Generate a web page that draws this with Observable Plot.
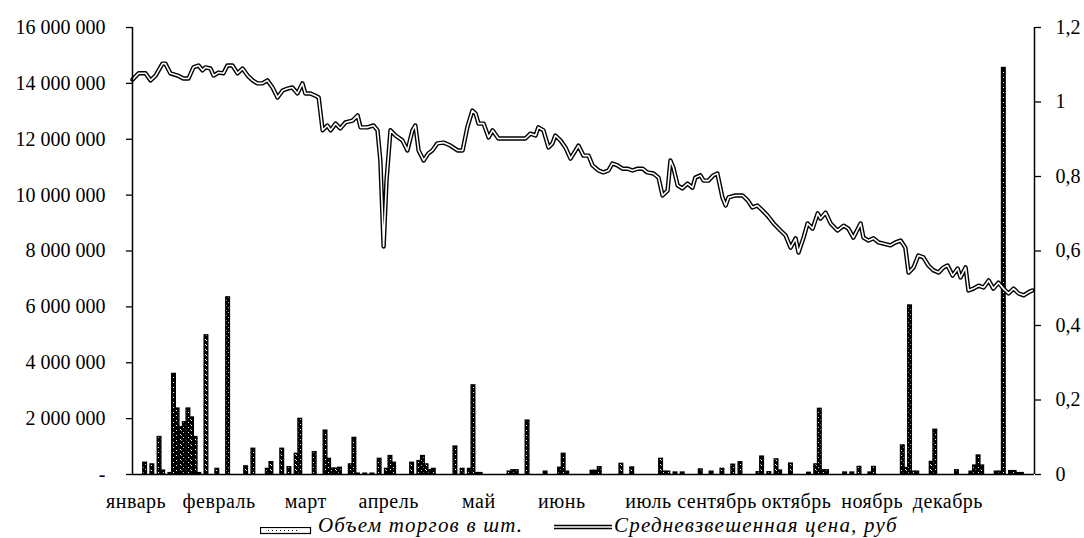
<!DOCTYPE html>
<html>
<head>
<meta charset="utf-8">
<script src="https://cdn.jsdelivr.net/npm/d3@7"></script>
<script src="https://cdn.jsdelivr.net/npm/@observablehq/plot@0.6"></script>
<style>
  body { margin: 0; background: #fff; }
  #wrap { position: relative; width: 1084px; height: 538px; font-family: "Liberation Serif", serif; color: #000; overflow: hidden; }
  #legend { position: relative; height: 24px; width: 1084px; }
  #legend .lt { position: absolute; top: 1px; font-style: italic; font-size: 21px; line-height: 21px; letter-spacing: 1.2px; white-space: nowrap; }
  #legend svg { position: absolute; }
  #chart svg [aria-label="x-axis tick label"] { letter-spacing: 0.5px; }
</style>
</head>
<body>
<div id="wrap">
  <div id="chart"></div>
  <div id="legend">
    <svg id="ic1" style="left:260px; top:13px" width="52" height="10"></svg>
    <span class="lt" style="left:318px">Объем торгов в шт.</span>
    <svg id="ic2" style="left:552px; top:8px" width="62" height="10"></svg>
    <span class="lt" style="left:614px">Средневзвешенная цена, руб</span>
  </div>
</div>
<script>
// ---- data ----
const monthTickDay = [1, 24, 48, 71, 96, 119, 143, 162, 184, 205, 226];
const monthLabels = ["январь", "февраль", "март", "апрель", "май", "июнь", "июль", "сентябрь", "октябрь", "ноябрь", "декабрь"];

const volumeTicks = [0, 2000000, 4000000, 6000000, 8000000, 10000000, 12000000, 14000000, 16000000];
const priceTicks = [0, 0.2, 0.4, 0.6, 0.8, 1, 1.2];

const barDay = [3,5,7,8,10,11,12,13,14,15,16,17,18,20,23,26,31,33,37,38,41,43,45,46,50,53,54,55,56,57,60,61,62,64,66,68,70,71,72,77,79,80,81,82,83,89,91,93,94,95,96,104,105,106,109,114,118,119,120,127,128,129,135,138,146,147,148,150,152,157,160,163,166,168,173,174,176,178,179,182,187,189,190,191,192,197,199,201,204,205,213,214,215,216,217,221,222,228,232,233,234,235,239,240,241,243,244,245,246];
const barVolume = [420000,360000,1340000,140000,50000,3600000,2360000,1690000,1870000,2360000,2040000,1340000,50000,4980000,200000,6340000,290000,920000,200000,440000,920000,260000,740000,1990000,800000,1570000,560000,210000,210000,240000,360000,1310000,30000,30000,30000,560000,200000,660000,420000,420000,480000,660000,360000,150000,200000,1000000,200000,200000,3190000,50000,50000,100000,150000,150000,1930000,100000,240000,740000,100000,130000,130000,260000,380000,250000,560000,100000,100000,70000,70000,180000,100000,200000,350000,440000,80000,640000,80000,540000,140000,390000,60000,360000,2350000,150000,150000,70000,70000,270000,70000,270000,1040000,230000,6050000,100000,100000,450000,1600000,150000,100000,320000,680000,320000,100000,100000,14550000,120000,120000,50000,50000];

const priceDay = [0,1.7,3.6,5.0,6.4,8.3,9.1,10.5,12.5,14.1,15.5,16.9,18.3,19.4,20.2,21.6,22.5,23.8,25.2,26.3,27.7,29.1,30.5,31.9,33.3,34.6,36.0,37.4,38.8,40.2,41.6,43.0,44.3,45.7,47.1,47.9,49.3,50.7,51.6,52.7,54.0,54.9,56.3,57.6,59.0,61.0,62.4,63.2,65.1,66.8,67.9,68.7,69.6,70.4,71.5,72.9,74.8,76.2,77.6,78.4,79.3,80.7,82.0,83.1,84.5,86.2,88.1,90.1,91.5,92.8,94.2,95.1,95.9,97.3,98.7,99.8,101.4,103.9,106.7,108.9,110.3,111.7,112.5,113.9,115.3,116.4,117.2,118.6,120.0,121.4,122.8,123.6,125.0,126.4,127.5,129.2,130.5,131.9,133.0,134.4,135.8,137.2,138.6,140.0,141.4,142.7,144.4,145.8,146.9,148.3,149.1,149.9,151.1,152.4,153.8,155.2,156.0,157.4,158.3,159.6,161.0,162.1,163.5,164.4,165.2,167.1,169.1,170.5,171.8,173.2,174.6,176.0,177.7,179.6,181.0,182.4,183.8,184.6,186.0,187.1,188.5,189.9,190.7,192.1,193.5,195.4,197.1,198.4,199.8,201.8,202.6,204.0,205.4,206.8,208.1,210.1,211.5,212.9,214.2,215.1,216.5,217.8,219.2,220.6,222.0,223.4,224.8,225.9,227.3,228.7,229.5,230.9,231.7,233.1,234.5,235.9,237.3,238.6,240.0,241.4,242.8,244.2,245.6,247.0,248.3,249.4];
const priceValue = [1.060,1.077,1.077,1.058,1.071,1.103,1.103,1.077,1.071,1.063,1.063,1.093,1.098,1.085,1.093,1.090,1.071,1.079,1.077,1.098,1.098,1.077,1.090,1.071,1.058,1.050,1.050,1.058,1.039,1.012,1.031,1.036,1.039,1.023,1.050,1.023,1.023,1.017,1.012,0.924,0.937,0.924,0.942,0.929,0.945,0.950,0.964,0.932,0.932,0.937,0.924,0.843,0.612,0.789,0.924,0.910,0.897,0.870,0.924,0.937,0.870,0.843,0.862,0.870,0.889,0.891,0.883,0.870,0.870,0.932,0.977,0.969,0.942,0.942,0.905,0.924,0.902,0.902,0.902,0.902,0.915,0.910,0.932,0.924,0.878,0.889,0.910,0.897,0.878,0.848,0.870,0.883,0.856,0.856,0.830,0.816,0.811,0.816,0.835,0.830,0.821,0.821,0.816,0.821,0.821,0.811,0.808,0.797,0.749,0.762,0.843,0.824,0.776,0.768,0.781,0.770,0.797,0.803,0.789,0.789,0.803,0.808,0.744,0.722,0.744,0.749,0.749,0.736,0.717,0.722,0.709,0.695,0.674,0.655,0.642,0.609,0.634,0.596,0.636,0.674,0.660,0.701,0.687,0.703,0.674,0.655,0.668,0.660,0.636,0.674,0.636,0.628,0.634,0.623,0.620,0.615,0.623,0.628,0.609,0.542,0.556,0.588,0.583,0.561,0.548,0.542,0.556,0.561,0.534,0.553,0.529,0.556,0.494,0.499,0.507,0.502,0.521,0.499,0.515,0.499,0.486,0.499,0.486,0.481,0.489,0.494];

// ---- build tables ----
const volMax = 16000000, priceMax = 1.2;
const k = volMax / priceMax; // price -> left-axis units
const dayCount = 250;
const bars = barDay.map((d, i) => ({ day: d, volume: barVolume[i] }));
const prices = priceDay.map((d, i) => ({ day: d, price: priceValue[i] }));

const fmtVol = v => v === 0 ? "-" : d3.format(",")(v).replace(/,/g, " ");
const fmtPrice = v => { const p = Math.round(v / k * 10) / 10; return String(p).replace(".", ","); };

const chart = Plot.plot({
  width: 1084,
  height: 514,
  marginTop: 27,
  marginBottom: 40,
  marginLeft: 132,
  marginRight: 50,
  x: { domain: [0, dayCount], axis: null },
  y: { domain: [0, volMax], axis: null },
  style: { fontFamily: "Liberation Serif", fontSize: "20px", color: "#000", background: "#fff", overflow: "visible" },
  marks: [
    Plot.ruleY([0], { stroke: "#000", strokeWidth: 1.3 }),
    Plot.rectY(bars, { x1: "day", x2: d => d.day + 1, y: "volume", fill: "url(#dots)", stroke: "#000", strokeWidth: 1.4 }),
    Plot.line(prices, { x: "day", y: d => d.price * k, stroke: "#000", strokeWidth: 4.4 }),
    Plot.line(prices, { x: "day", y: d => d.price * k, stroke: "#fff", strokeWidth: 1.6 }),
    Plot.ruleX([0], { y1: 0, y2: volMax, stroke: "#000", strokeWidth: 1.5 }),
    Plot.ruleX([dayCount], { y1: 0, y2: volMax, stroke: "#000", strokeWidth: 1.5 }),
    Plot.axisY(volumeTicks, { anchor: "left", label: null, tickSize: 6, tickPadding: 21, tickFormat: fmtVol, fontSize: 20, strokeWidth: 1.3 }),
    Plot.axisY(priceTicks.map(p => p * k), { anchor: "right", label: null, tickSize: 6, tickPadding: 15, tickFormat: fmtPrice, fontSize: 20, strokeWidth: 1.3 }),
    Plot.axisX(monthTickDay, { anchor: "bottom", label: null, tickSize: 0, tickPadding: 19, tickFormat: d => monthLabels[monthTickDay.indexOf(d)], fontSize: 20 })
  ]
});

// speckled (mostly dark) fill pattern for the volume bars
const ns = "http://www.w3.org/2000/svg";
function addPattern(svg) {
  const defs = document.createElementNS(ns, "defs");
  const pat = document.createElementNS(ns, "pattern");
  pat.setAttribute("id", "dots");
  pat.setAttribute("patternUnits", "userSpaceOnUse");
  pat.setAttribute("width", "5");
  pat.setAttribute("height", "5");
  const bg = document.createElementNS(ns, "rect");
  bg.setAttribute("width", "5"); bg.setAttribute("height", "5"); bg.setAttribute("fill", "#000");
  pat.appendChild(bg);
  [[1, 0], [3, 2], [0, 4]].forEach(([x, y]) => {
    const r = document.createElementNS(ns, "rect");
    r.setAttribute("x", x); r.setAttribute("y", y);
    r.setAttribute("width", "1"); r.setAttribute("height", "1"); r.setAttribute("fill", "#fff");
    pat.appendChild(r);
  });
  defs.appendChild(pat);
  svg.insertBefore(defs, svg.firstChild);
}
addPattern(chart);
document.getElementById("chart").appendChild(chart);

// legend icons
const ic1 = document.getElementById("ic1");
ic1.insertAdjacentHTML("beforeend", '<rect x="0.5" y="0.5" width="50" height="6" fill="#fff" stroke="#000" stroke-width="1.2"/><line x1="8" y1="3.5" x2="40" y2="3.5" stroke="#000" stroke-width="1" stroke-dasharray="1 3"/>');
const ic2 = document.getElementById("ic2");
ic2.innerHTML = '<line x1="2" y1="5" x2="60" y2="5" stroke="#000" stroke-width="4.4"/><line x1="2" y1="5" x2="60" y2="5" stroke="#fff" stroke-width="1.6"/>';
</script>
</body>
</html>
